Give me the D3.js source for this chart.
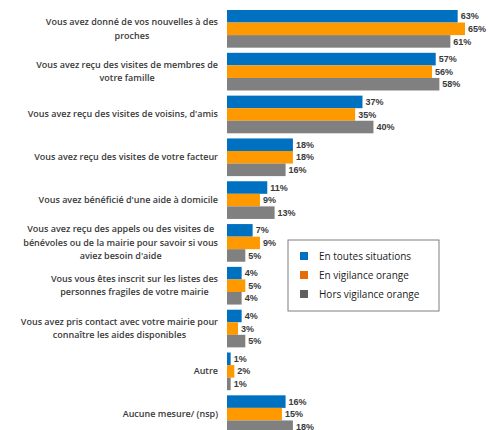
<!DOCTYPE html>
<html>
<head>
<meta charset="utf-8">
<script src="https://cdn.jsdelivr.net/npm/d3@7"></script>
<style>
  body { margin: 0; background: #fff; }
  svg { display: block; }
</style>
</head>
<body>
<svg id="chart" width="489" height="430"></svg>
<script>
const categories = [
  ["Vous avez donné de vos nouvelles à des", "proches"],
  ["Vous avez reçu des visites de membres de", "votre famille"],
  ["Vous avez reçu des visites de voisins, d'amis"],
  ["Vous avez reçu des visites de votre facteur"],
  ["Vous avez bénéficié d'une aide à domicile"],
  ["Vous avez reçu des appels ou des visites de", "bénévoles ou de la mairie pour savoir si vous", "aviez besoin d'aide"],
  ["Vous vous êtes inscrit sur les listes des", "personnes fragiles de votre mairie"],
  ["Vous avez pris contact avec votre mairie pour", "connaître les aides disponibles"],
  ["Autre"],
  ["Aucune mesure/ (nsp)"]
];

const seriesNames = ["En toutes situations", "En vigilance orange", "Hors vigilance orange"];
const toutesSituations = [63, 57, 37, 18, 11, 7, 4, 4, 1, 16];
const vigilanceOrange = [65, 56, 35, 18, 9, 9, 5, 3, 2, 15];
const horsVigilance = [61, 58, 40, 16, 13, 5, 4, 5, 1, 18];

const barColors = ["#0070C0", "#FF9900", "#808080"];
const legendColors = ["#0070C0", "#E46C0A", "#5F5F5F"];

const series = [toutesSituations, vigilanceOrange, horsVigilance];

const margins = { top: 10, left: 227 };
const plotWidth = 238;
const plotHeight = 423;

const svg = d3.select("#chart");
const g = svg.append("g")
  .attr("transform", "translate(" + margins.left + "," + margins.top + ")");

const x = d3.scaleLinear().domain([0, 65]).range([0, plotWidth]);

const y0 = d3.scaleBand()
  .domain(d3.range(categories.length))
  .range([0, plotHeight])
  .paddingInner(0.12)
  .paddingOuter(0);

const y1 = d3.scaleBand()
  .domain(d3.range(series.length))
  .range([0, y0.bandwidth()])
  .padding(0);

const groups = g.selectAll(".group")
  .data(categories)
  .enter()
  .append("g")
  .attr("class", "group")
  .attr("transform", (d, i) => "translate(0," + y0(i) + ")");

groups.selectAll("rect")
  .data((d, i) => series.map((s, k) => ({ k, v: s[i] })))
  .enter()
  .append("rect")
  .attr("x", 0)
  .attr("y", d => y1(d.k))
  .attr("width", d => x(d.v))
  .attr("height", y1.bandwidth())
  .attr("fill", d => barColors[d.k]);

groups.selectAll(".val")
  .data((d, i) => series.map((s, k) => ({ k, v: s[i] })))
  .enter()
  .append("text")
  .attr("class", "val")
  .attr("x", d => x(d.v) + 3)
  .attr("y", d => y1(d.k) + y1.bandwidth() / 2)
  .attr("dy", "0.35em")
  .attr("font-family", "'Liberation Sans', Arial, sans-serif")
  .attr("font-size", 9)
  .attr("font-weight", "bold")
  .attr("fill", "#3a3a3a")
  .text(d => d.v + "%");

// category labels, block right aligned, lines centred
const labelRight = 218 - margins.left;
const lineH = 13.5;
groups.each(function (lines, i) {
  const t = d3.select(this).append("text")
    .attr("font-family", "'Open Sans', 'Liberation Sans', sans-serif")
    .attr("font-size", 9)
    .attr("font-weight", 600)
    .attr("fill", "#3a3a3a")
    .attr("text-anchor", "middle");
  const spans = lines.map(l => t.append("tspan").text(l));
  let maxW = 0;
  spans.forEach(s => { maxW = Math.max(maxW, s.node().getComputedTextLength()); });
  const cx = labelRight - maxW / 2;
  const startY = y0.bandwidth() / 2 - (lines.length - 1) * lineH / 2 + 3;
  spans.forEach((s, j) => s.attr("x", cx).attr("y", startY + j * lineH));
});

// legend
const legend = svg.append("g").attr("transform", "translate(288,240)");
legend.append("rect")
  .attr("width", 151)
  .attr("height", 71)
  .attr("fill", "#fff")
  .attr("stroke", "#7f7f7f")
  .attr("stroke-width", 1);

const legendItems = legend.selectAll(".item")
  .data(seriesNames)
  .enter()
  .append("g")
  .attr("class", "item")
  .attr("transform", (d, i) => "translate(12," + (16 + i * 19) + ")");

legendItems.append("rect")
  .attr("x", 0)
  .attr("y", -4)
  .attr("width", 8)
  .attr("height", 8)
  .attr("fill", (d, i) => legendColors[i]);

legendItems.append("text")
  .attr("x", 19)
  .attr("dy", "0.35em")
  .attr("font-family", "'Open Sans', 'Liberation Sans', sans-serif")
  .attr("font-size", 10)
  .attr("fill", "#1a1a1a")
  .text(d => d);
</script>
</body>
</html>
